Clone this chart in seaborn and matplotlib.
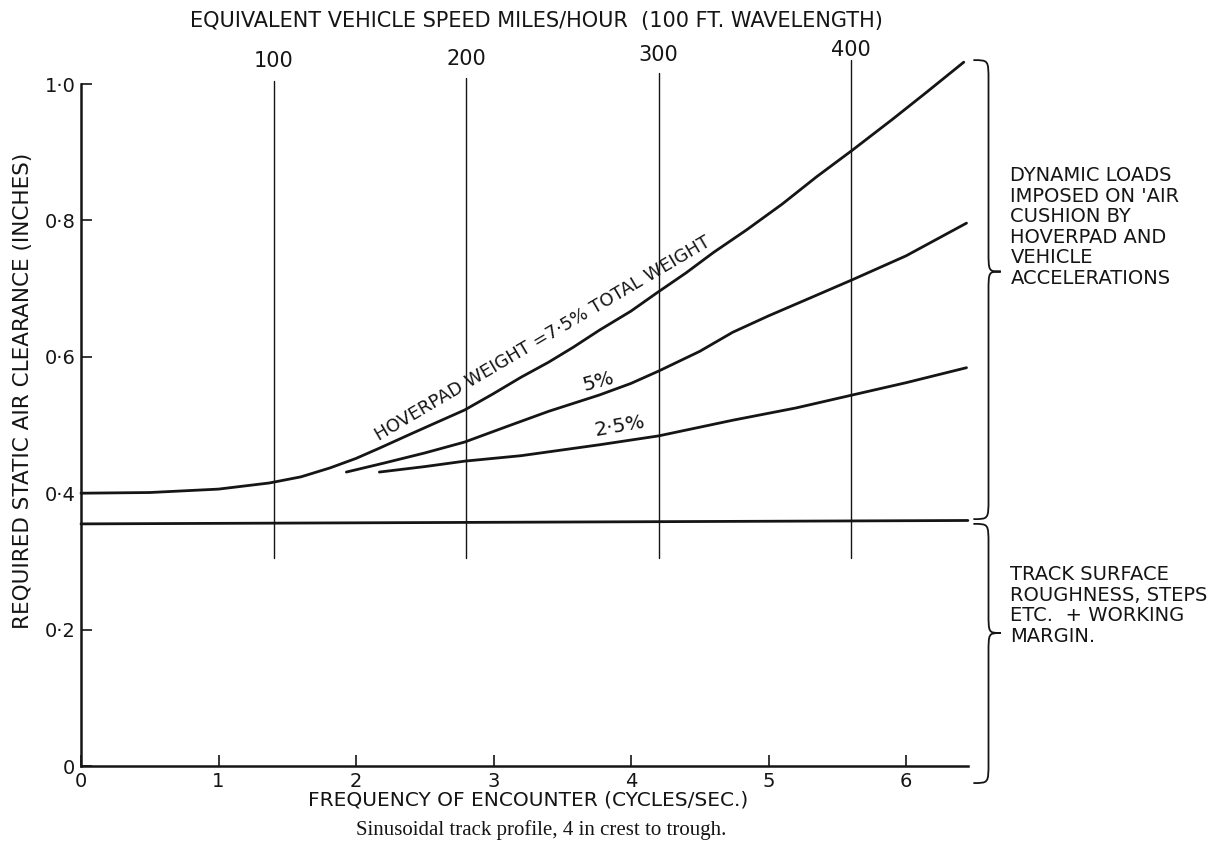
import numpy as np
import pandas as pd
import matplotlib
matplotlib.use("Agg")
import matplotlib.pyplot as plt
from matplotlib.path import Path
from matplotlib.patches import PathPatch
import seaborn as sns

# Required static air clearance (inches) against frequency of encounter (cycles/sec)
freq_75 = [0.0, 0.5, 1.0, 1.37, 1.6, 1.81, 2.0, 2.17, 2.4, 2.6, 2.79, 3.0, 3.2,
           3.4, 3.58, 3.77, 4.0, 4.19, 4.4, 4.6, 4.84, 5.1, 5.35, 5.61, 5.9,
           6.15, 6.42]
clear_75 = [0.400, 0.401, 0.406, 0.415, 0.424, 0.437, 0.451, 0.466, 0.487,
            0.505, 0.522, 0.546, 0.570, 0.592, 0.614, 0.639, 0.667, 0.694,
            0.723, 0.753, 0.786, 0.824, 0.864, 0.903, 0.948, 0.988, 1.032]

freq_50 = [1.93, 2.2, 2.5, 2.79, 3.1, 3.4, 3.77, 4.0, 4.2, 4.5, 4.74, 5.0,
           5.3, 5.61, 6.0, 6.44]
clear_50 = [0.431, 0.444, 0.459, 0.475, 0.498, 0.520, 0.544, 0.561, 0.579,
            0.608, 0.636, 0.660, 0.686, 0.713, 0.748, 0.796]

freq_25 = [2.17, 2.5, 2.79, 3.2, 3.77, 4.2, 4.74, 5.2, 5.61, 6.0, 6.44]
clear_25 = [0.431, 0.439, 0.447, 0.455, 0.471, 0.484, 0.507, 0.525, 0.544,
            0.562, 0.584]

# Track roughness + working margin allowance
freq_track = [0.0, 6.45]
clear_track = [0.355, 0.360]

# Equivalent vehicle speed (100 ft wavelength) reference lines
speed_mph = [100, 200, 300, 400]
hz_per_mph = 0.0140
speed_top = [1.004, 1.009, 1.016, 1.035]
speed_label_y = [1.033, 1.037, 1.042, 1.050]
speed_bottom = 0.305

x_ticks = [0, 1, 2, 3, 4, 5, 6]
x_tick_labels = ["0", "1", "2", "3", "4", "5", "6"]
y_ticks = [0.0, 0.2, 0.4, 0.6, 0.8, 1.0]
y_tick_labels = ["0", "0·2", "0·4", "0·6", "0·8", "1·0"]

curve_labels = ["HOVERPAD WEIGHT =7·5% TOTAL WEIGHT", "5%", "2·5%"]

# brace extents (low, tip, high)
brace_upper = (0.362, 0.725, 1.035)
brace_lower = (-0.025, 0.195, 0.355)
text_upper = "DYNAMIC LOADS\nIMPOSED ON 'AIR\nCUSHION BY\nHOVERPAD AND\nVEHICLE\nACCELERATIONS"
text_lower = "TRACK SURFACE\nROUGHNESS, STEPS\nETC.  + WORKING\nMARGIN."

sns.set_theme(style="ticks")
plt.rcParams["font.family"] = ["DejaVu Sans"]

fig = plt.figure(figsize=(12.19, 8.44), dpi=100)
ax = fig.add_axes([81 / 1219, 78 / 844, 907.5 / 1219, 682 / 844])
ax.set_xlim(0, 6.6)
ax.set_ylim(0, 1.0)

ink = "#151515"
curves = pd.concat([
    pd.DataFrame({"f": freq_75, "c": clear_75, "s": "7.5"}),
    pd.DataFrame({"f": freq_50, "c": clear_50, "s": "5"}),
    pd.DataFrame({"f": freq_25, "c": clear_25, "s": "2.5"}),
    pd.DataFrame({"f": freq_track, "c": clear_track, "s": "track"}),
])
sns.lineplot(data=curves, x="f", y="c", units="s", estimator=None, sort=False,
             color=ink, linewidth=2.0, ax=ax, legend=False)
for line in ax.lines:
    line.set_clip_on(False)
    line.set_solid_joinstyle("round")

# speed reference lines and their labels
for mph, top, ly in zip(speed_mph, speed_top, speed_label_y):
    fx = mph * hz_per_mph
    ax.plot([fx, fx], [speed_bottom, top], color=ink, lw=1.0, clip_on=False)
    ax.text(fx, ly, str(mph), ha="center", va="center", fontsize=15,
            color=ink, clip_on=False)
ax.text(3.31, 1.093, "EQUIVALENT VEHICLE SPEED MILES/HOUR  (100 FT. WAVELENGTH)",
        ha="center", va="center", fontsize=15, color=ink, clip_on=False)

# curve labels, set just above their lines
ax.text(3.38, 0.620, curve_labels[0], rotation=30.5, rotation_mode="anchor",
        ha="center", va="baseline", fontsize=13, color=ink)
ax.text(3.76, 0.564, curve_labels[1], rotation=15, rotation_mode="anchor",
        ha="center", va="center", fontsize=14.5, color=ink)
ax.text(3.92, 0.499, curve_labels[2], rotation=10, rotation_mode="anchor",
        ha="center", va="center", fontsize=14.5, color=ink)

# axes styling
for side in ["top", "right"]:
    ax.spines[side].set_visible(False)
ax.spines["left"].set_bounds(0, 1.0)
ax.spines["bottom"].set_bounds(0, 6.45)
for side in ["left", "bottom"]:
    ax.spines[side].set_linewidth(1.8)
    ax.spines[side].set_color(ink)
ax.set_xticks(x_ticks)
ax.set_xticklabels(x_tick_labels)
ax.set_yticks(y_ticks)
ax.set_yticklabels(y_tick_labels)
ax.tick_params(direction="in", length=8, width=1.2, colors=ink,
               labelsize=14, pad=4)
ax.set_xlabel("")
ax.set_ylabel("")
ax.text(3.25, -0.05, "FREQUENCY OF ENCOUNTER (CYCLES/SEC.)", ha="center",
        va="center", fontsize=14.5, color=ink, clip_on=False)
ax.text(-0.42, 0.55, "REQUIRED STATIC AIR CLEARANCE (INCHES)", rotation=90,
        ha="center", va="center", fontsize=15.5, color=ink, clip_on=False)
ax.text(3.35, -0.094, "Sinusoidal track profile, 4 in crest to trough.",
        ha="center", va="center", fontsize=15, color=ink,
        family="Liberation Serif", clip_on=False)


def brace(axis, lo, tip, hi, x_end=6.49, x_mid=6.6, x_tip=6.69, r=0.03):
    verts = [(x_end, hi), (x_mid, hi), (x_mid, hi), (x_mid, hi - r),
             (x_mid, tip + r),
             (x_mid, tip), (x_mid, tip), (x_tip, tip),
             (x_mid, tip), (x_mid, tip), (x_mid, tip - r),
             (x_mid, lo + r),
             (x_mid, lo), (x_mid, lo), (x_end, lo)]
    codes = [Path.MOVETO, Path.CURVE4, Path.CURVE4, Path.CURVE4,
             Path.LINETO,
             Path.CURVE4, Path.CURVE4, Path.CURVE4,
             Path.CURVE4, Path.CURVE4, Path.CURVE4,
             Path.LINETO,
             Path.CURVE4, Path.CURVE4, Path.CURVE4]
    axis.add_patch(PathPatch(Path(verts, codes), fill=False, ec=ink, lw=1.3,
                             clip_on=False))


brace(ax, *brace_upper)
brace(ax, *brace_lower)
ax.text(6.76, 0.79, text_upper, ha="left", va="center", fontsize=14,
        color=ink, linespacing=1.1, clip_on=False)
ax.text(6.76, 0.235, text_lower, ha="left", va="center", fontsize=14,
        color=ink, linespacing=1.1, clip_on=False)

fig.savefig("out.png", dpi=100, facecolor="white")
